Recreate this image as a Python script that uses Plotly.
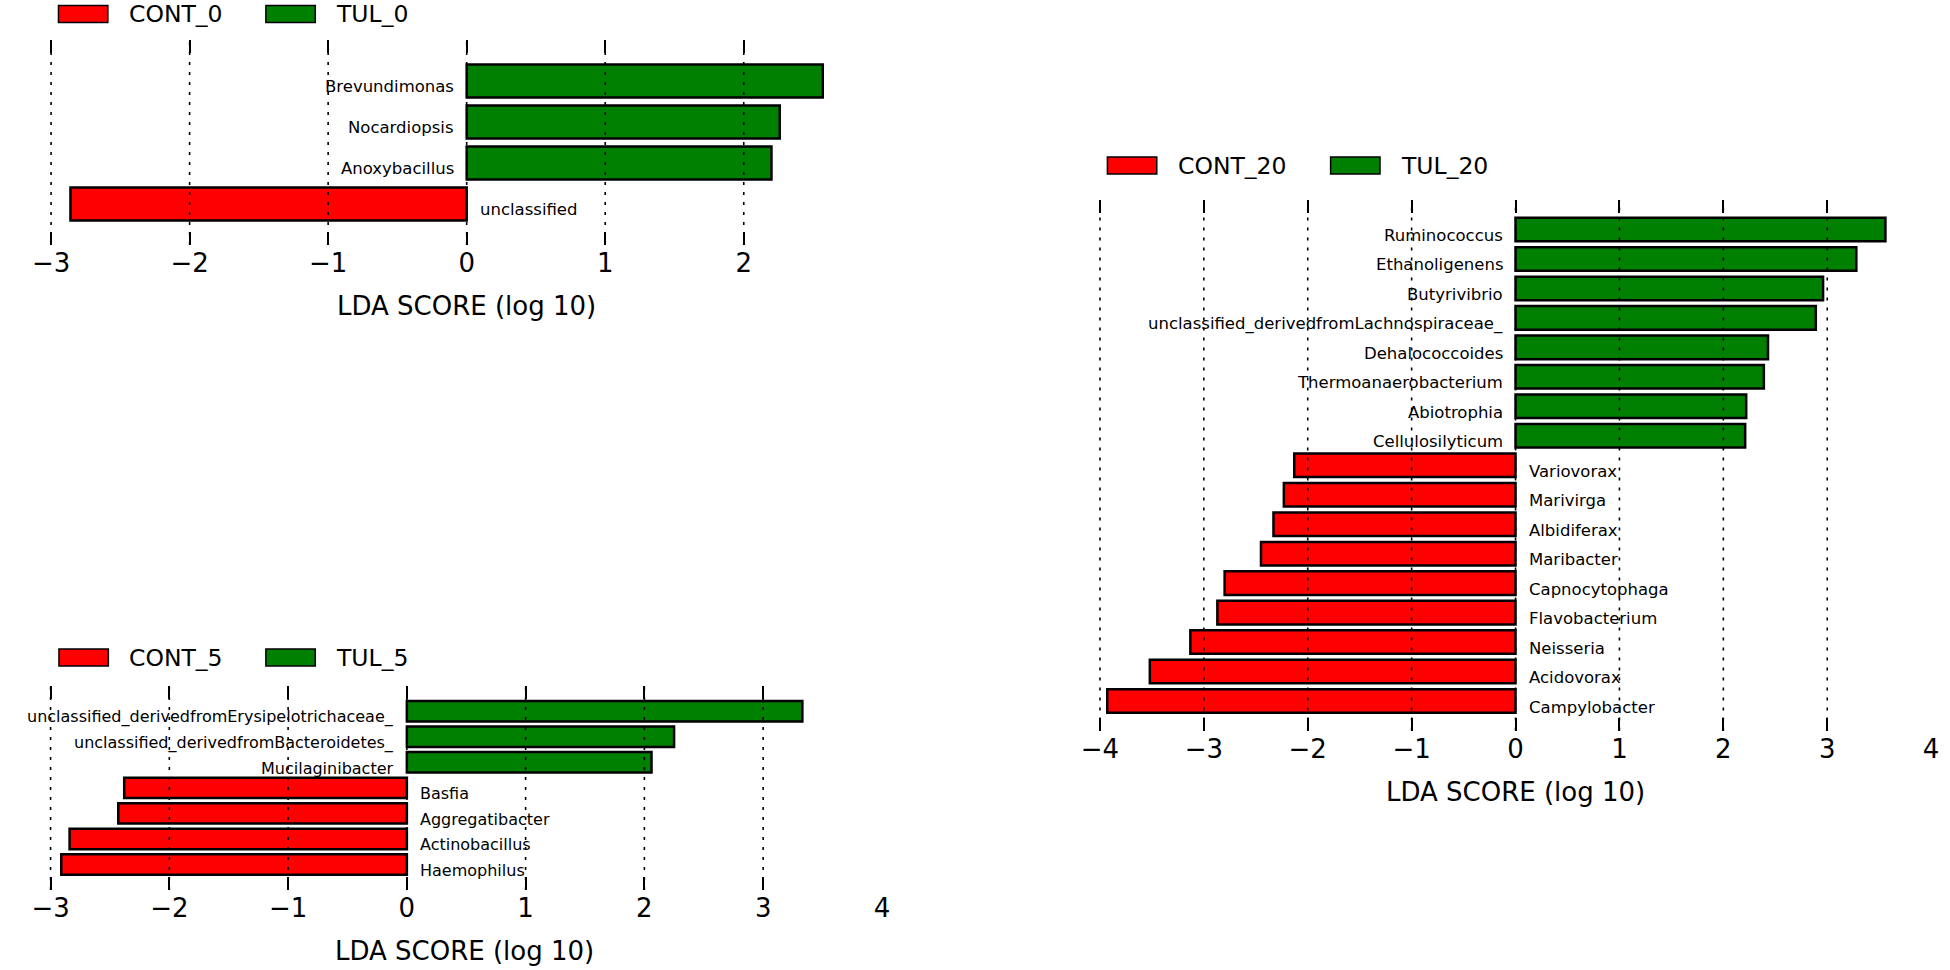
import plotly.graph_objects as go

# LDA scores (positive = TUL, negative = CONT)
day0_taxa = ["Brevundimonas", "Nocardiopsis", "Anoxybacillus", "unclassified"]
day0_lda = [2.57, 2.26, 2.20, -2.86]
day0_groups = ["CONT_0", "TUL_0"]
day0_ticks = [-3, -2, -1, 0, 1, 2]

day5_taxa = [
    "unclassified_derivedfromErysipelotrichaceae_",
    "unclassified_derivedfromBacteroidetes_",
    "Mucilaginibacter",
    "Basfia",
    "Aggregatibacter",
    "Actinobacillus",
    "Haemophilus",
]
day5_lda = [3.33, 2.25, 2.06, -2.38, -2.43, -2.84, -2.91]
day5_groups = ["CONT_5", "TUL_5"]
day5_ticks = [-3, -2, -1, 0, 1, 2, 3, 4]

day20_taxa = [
    "Ruminococcus", "Ethanoligenens", "Butyrivibrio",
    "unclassified_derivedfromLachnospiraceae_", "Dehalococcoides",
    "Thermoanaerobacterium", "Abiotrophia", "Cellulosilyticum",
    "Variovorax", "Marivirga", "Albidiferax", "Maribacter",
    "Capnocytophaga", "Flavobacterium", "Neisseria", "Acidovorax",
    "Campylobacter",
]
day20_lda = [3.56, 3.28, 2.96, 2.89, 2.43, 2.39, 2.22, 2.21,
             -2.13, -2.23, -2.33, -2.45, -2.80, -2.87, -3.13, -3.52, -3.93]
day20_groups = ["CONT_20", "TUL_20"]
day20_ticks = [-4, -3, -2, -1, 0, 1, 2, 3, 4]

RED = "#ff0000"
GREEN = "#008000"
FONT = "DejaVu Sans"
W, H = 1950, 970


def fx(px):
    return px / W


def fy(px):
    return 1 - px / H


# layout of each panel in pixels of the 1950x970 page
# (ranges start a hair before the first tick so its dotted line isn't clipped)
panels = [
    dict(taxa=day0_taxa, lda=day0_lda, groups=day0_groups, ticks=day0_ticks,
         xrange=[-3.03, 2.65], xdom=(31.3, 828), ydom=(40, 245),
         leg_y=14, leg_x=(43, 253), title_x=0, label_size=16.5),
    dict(taxa=day5_taxa, lda=day5_lda, groups=day5_groups, ticks=day5_ticks,
         xrange=[-3.03, 4], xdom=(31.4, 876.7), ydom=(685.7, 890),
         leg_y=657.5, leg_x=(43.5, 253), title_x=0.5, label_size=16),
    dict(taxa=day20_taxa, lda=day20_lda, groups=day20_groups, ticks=day20_ticks,
         xrange=[-4.03, 4], xdom=(1094.3, 1939), ydom=(200, 730.5),
         leg_y=165.5, leg_x=(1105, 1331), title_x=0, label_size=16.5),
]

fig = go.Figure()
shapes = []
annotations = []
layout_axes = {}

for i, p in enumerate(panels):
    sfx = "" if i == 0 else str(i + 1)
    xa, ya = "x" + sfx, "y" + sfx
    n = len(p["taxa"])
    colors = [RED if v < 0 else GREEN for v in p["lda"]]

    fig.add_trace(go.Bar(
        x=p["lda"], y=p["taxa"], orientation="h", width=0.8,
        marker=dict(color=colors, line=dict(color="black", width=2.5)),
        xaxis=xa, yaxis=ya, showlegend=False,
        hovertemplate="%{y}: %{x:.2f}<extra></extra>",
    ))

    layout_axes["xaxis" + sfx] = dict(
        domain=[fx(p["xdom"][0]), fx(p["xdom"][1])], anchor=ya,
        range=p["xrange"], tickvals=p["ticks"], showgrid=False,
        zeroline=False, showline=False, ticks="inside", ticklen=13,
        tickwidth=1.5, tickcolor="black", mirror="ticks",
        tickfont=dict(family=FONT, size=26, color="black"),
    )
    layout_axes["yaxis" + sfx] = dict(
        domain=[fy(p["ydom"][1]), fy(p["ydom"][0])], anchor=xa,
        type="category", categoryorder="array", categoryarray=p["taxa"],
        range=[n, -1], showticklabels=False, showgrid=False,
        zeroline=False, showline=False, ticks="",
    )

    # dotted grid drawn over the bars, as in the original
    for t in p["ticks"]:
        if t >= p["xrange"][1]:
            continue
        shapes.append(dict(
            type="line", xref=xa, yref=ya + " domain", x0=t, x1=t, y0=0, y1=1,
            line=dict(color="black", width=1.6, dash="3px,7px"), layer="above",
        ))

    for name, v in zip(p["taxa"], p["lda"]):
        annotations.append(dict(
            x=0, y=name, xref=xa, yref=ya, showarrow=False,
            text=name, xanchor="left" if v < 0 else "right",
            xshift=11 if v < 0 else -11, yshift=-6,
            font=dict(family=FONT, size=p["label_size"], color="black"),
        ))

    # x title sits at zero for panels 1 and 3, mid-frame for panel 2
    annotations.append(dict(
        x=p["title_x"], xref=xa if p["title_x"] == 0 else xa + " domain",
        y=0, yref=ya + " domain", yshift=-61, yanchor="middle",
        showarrow=False, text="LDA SCORE (log 10)",
        font=dict(family=FONT, size=26, color="black"),
    ))

    # legend: wide patch + group name, one row above each panel
    for gx, grp, col in zip(p["leg_x"], p["groups"], [RED, GREEN]):
        shapes.append(dict(
            type="rect", xref="paper", yref="paper",
            x0=fx(gx), x1=fx(gx + 50),
            y0=fy(p["leg_y"] + 8.5), y1=fy(p["leg_y"] - 8.5),
            fillcolor=col, line=dict(color="black", width=1.5),
        ))
        annotations.append(dict(
            x=fx(gx + 69), y=fy(p["leg_y"]), xref="paper", yref="paper",
            xanchor="left", yanchor="middle", showarrow=False, text=grp,
            font=dict(family=FONT, size=23.5, color="black"),
        ))

fig.update_layout(
    width=W, height=H, margin=dict(l=0, r=0, t=0, b=0),
    paper_bgcolor="white", plot_bgcolor="white",
    bargap=0.2, shapes=shapes, annotations=annotations,
    **layout_axes,
)

# no page margin, so the 1950x970 figure fills the window exactly
fig.write_html(
    "out.html",
    config={"displayModeBar": False},
    post_script="document.body.style.margin='0';document.body.style.overflow='hidden';",
)
